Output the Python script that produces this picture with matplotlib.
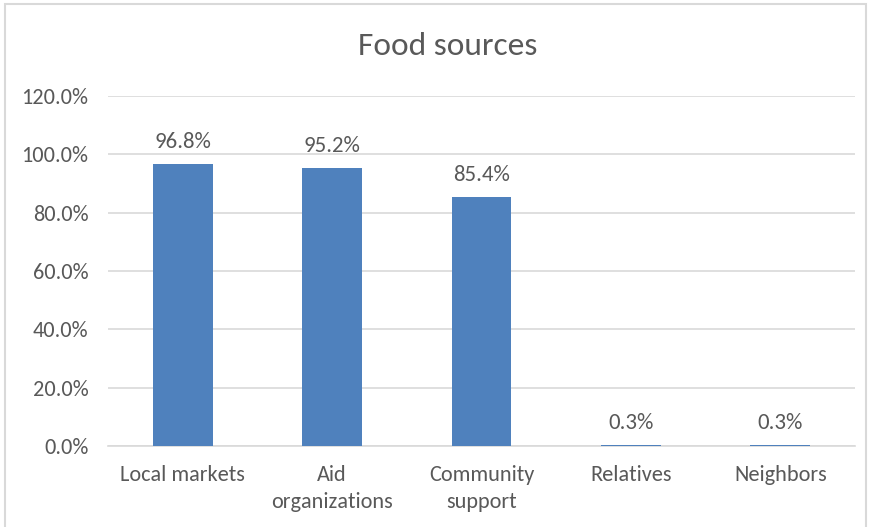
import matplotlib
matplotlib.use("Agg")
import matplotlib.pyplot as plt
from matplotlib.patches import Rectangle
from matplotlib.ticker import PercentFormatter, MultipleLocator

# ---- data ----
categories = ["Local markets", "Aid\norganizations", "Community\nsupport", "Relatives", "Neighbors"]
shares = [96.8, 95.2, 85.4, 0.3, 0.3]
title = "Food sources"

plt.rcParams["font.family"] = ["Carlito", "Liberation Sans Narrow", "DejaVu Sans"]

BAR = "#4f81bd"
GRID = "#d9d9d9"
TEXT = "#595959"

fig = plt.figure(figsize=(8.7, 5.27), dpi=100)
ax = fig.add_axes([0.1241, 0.1537, 0.8587, 0.6641])

x = range(len(categories))
ax.bar(x, shares, width=0.4, color=BAR, zorder=3)

for xi, v in zip(x, shares):
    ax.annotate(f"{v:.1f}%", (xi, v), xytext=(0, 11.5), textcoords="offset points",
                ha="center", va="baseline", fontsize=16.5, color=TEXT)

ax.set_xlim(-0.5, len(categories) - 0.5)
ax.set_ylim(0, 120)
ax.yaxis.set_major_locator(MultipleLocator(20))
ax.yaxis.set_major_formatter(PercentFormatter(decimals=1))
ax.set_xticks(list(x))
ax.set_xticklabels(categories, fontsize=16, color=TEXT, linespacing=1.42)
ax.tick_params(axis="y", labelsize=16, colors=TEXT, length=0, pad=14)
ax.tick_params(axis="x", length=0, pad=14)

ax.grid(axis="y", color=GRID, linewidth=1.2, zorder=0)
for side in ["top", "right", "left"]:
    ax.spines[side].set_visible(False)
ax.spines["bottom"].set_color(GRID)
ax.spines["bottom"].set_linewidth(1.2)

fig.text(0.5148, 0.913, title, ha="center", va="center", fontsize=24, color=TEXT)

# light chart frame
fig.patches.append(Rectangle((5 / 870, -0.05), 861 / 870, 1 - 4 / 527 + 0.05,
                             transform=fig.transFigure, fill=False,
                             edgecolor="#d9d9d9", linewidth=1.5))

fig.savefig("out.png", dpi=100)
